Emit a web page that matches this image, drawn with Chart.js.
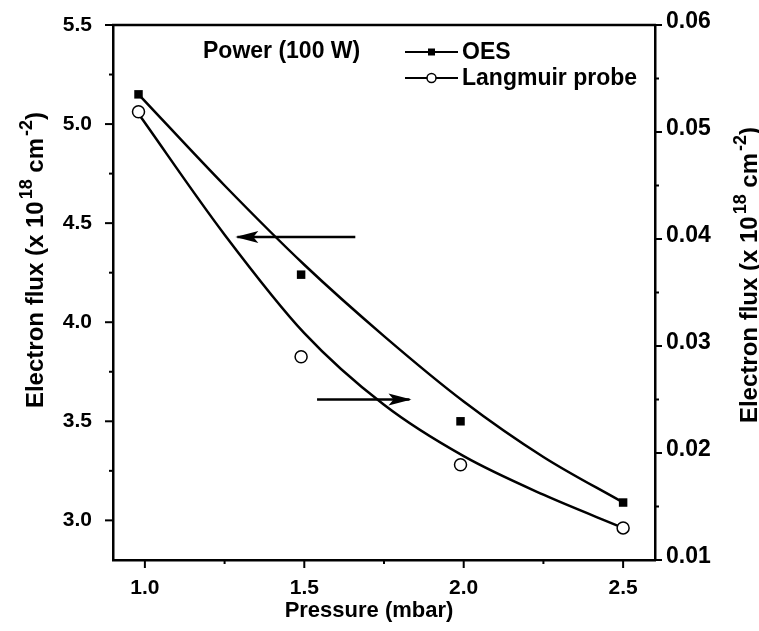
<!DOCTYPE html>
<html>
<head>
<meta charset="utf-8">
<script src="https://cdn.jsdelivr.net/npm/chart.js@4/dist/chart.umd.min.js"></script>
<style>
html,body{margin:0;padding:0;background:#fff;}
#wrap{width:759px;height:631px;}
</style>
</head>
<body>
<div id="wrap"><canvas id="c" width="759" height="631"></canvas></div>
<script>
// ---- data ----
const pressure = [0.98, 1.49, 1.99, 2.5];
const oesFlux = [5.15, 4.24, 3.50, 3.09];              // left axis (x10^18 cm^-2)
const langmuirFlux = [0.0519, 0.0290, 0.0189, 0.0130]; // right axis (x10^18 cm^-2)

// fitted curves, points
const oesFitX = [0.98, 1.25, 1.50, 1.75, 2.00, 2.25, 2.50];
const oesFitY = [5.15, 4.69, 4.29, 3.93, 3.60, 3.32, 3.09];
const lpFitX = [0.98, 1.25, 1.50, 1.75, 2.00, 2.25, 2.50];
const lpFitY = [0.0517, 0.0404, 0.0312, 0.0245, 0.0197, 0.0161, 0.0130];

const xTicks = [1.0, 1.5, 2.0, 2.5];
const xMinor = [1.25, 1.75, 2.25];
const leftTicks = [3.0, 3.5, 4.0, 4.5, 5.0, 5.5];
const leftMinor = [3.25, 3.75, 4.25, 4.75, 5.25];
const rightTicks = [0.01, 0.02, 0.03, 0.04, 0.05, 0.06];
const rightMinor = [0.015, 0.025, 0.035, 0.045, 0.055];

const legendLabels = ['OES', 'Langmuir probe'];
const powerLabel = 'Power (100 W)';
const xTitle = 'Pressure (mbar)';
// arrows: [x0, x1, y] in data units; left arrow on left axis, right arrow on right axis
const leftArrow = [1.66, 1.29, 4.43];
const rightArrow = [1.54, 1.83, 0.0250];

const FONT = '"Liberation Sans", Arial, Helvetica, sans-serif';

function zip(xs, ys){ return xs.map((x,i)=>({x:x, y:ys[i]})); }
function noPad(s){ s.paddingTop = 0; s.paddingBottom = 0; s.paddingLeft = 0; s.paddingRight = 0; }

const annot = {
  id: 'annot',
  afterDraw(chart){
    const ctx = chart.ctx;
    const a = chart.chartArea;
    const xs = chart.scales.x, yl = chart.scales.yL, yr = chart.scales.yR;
    ctx.save();
    ctx.strokeStyle = '#000';
    ctx.fillStyle = '#000';
    // frame top
    ctx.lineWidth = 2.5;
    ctx.beginPath();
    ctx.moveTo(a.left - 1, a.top); ctx.lineTo(a.right + 1, a.top);
    ctx.stroke();
    // ticks
    ctx.lineWidth = 2;
    function tk(x1,y1,x2,y2){ ctx.beginPath(); ctx.moveTo(x1,y1); ctx.lineTo(x2,y2); ctx.stroke(); }
    xTicks.forEach(v=>{ const p = xs.getPixelForValue(v); tk(p, a.bottom, p, a.bottom+8); });
    xMinor.forEach(v=>{ const p = xs.getPixelForValue(v); tk(p, a.bottom, p, a.bottom+4); });
    leftTicks.forEach(v=>{ const p = yl.getPixelForValue(v); tk(a.left-8, p, a.left, p); });
    leftMinor.forEach(v=>{ const p = yl.getPixelForValue(v); tk(a.left-4, p, a.left, p); });
    rightTicks.forEach(v=>{ const p = yr.getPixelForValue(v); tk(a.right, p, a.right+7, p); });
    rightMinor.forEach(v=>{ const p = yr.getPixelForValue(v); tk(a.right, p, a.right+4, p); });

    // arrows
    function arrow(x0, x1, y){
      ctx.lineWidth = 2.5;
      ctx.beginPath(); ctx.moveTo(x0, y); ctx.lineTo(x1, y); ctx.stroke();
      const dir = x1 > x0 ? 1 : -1;
      ctx.beginPath();
      ctx.moveTo(x1 + dir*2, y);
      ctx.lineTo(x1 - dir*21, y - 6);
      ctx.lineTo(x1 - dir*16, y);
      ctx.lineTo(x1 - dir*21, y + 6);
      ctx.closePath(); ctx.fill();
    }
    arrow(xs.getPixelForValue(leftArrow[0]), xs.getPixelForValue(leftArrow[1]), yl.getPixelForValue(leftArrow[2]));
    arrow(xs.getPixelForValue(rightArrow[0]), xs.getPixelForValue(rightArrow[1]), yr.getPixelForValue(rightArrow[2]));

    // power label
    ctx.font = 'bold 23px ' + FONT;
    ctx.textBaseline = 'middle';
    ctx.textAlign = 'left';
    ctx.fillText(powerLabel, a.left + 90, a.top + 27);

    // legend
    const lx0 = a.left + 292, lx1 = a.left + 345, tx = a.left + 349;
    [a.top + 27, a.top + 53].forEach((y, i)=>{
      ctx.lineWidth = 2;
      ctx.strokeStyle = '#000';
      tk(lx0, y, lx1, y);
      const cx = (lx0+lx1)/2;
      if (i === 0) {
        ctx.fillRect(cx-3.5, y-3.5, 7, 7);
      } else {
        ctx.beginPath(); ctx.arc(cx, y, 4.5, 0, Math.PI*2);
        ctx.fillStyle = '#fff'; ctx.fill(); ctx.fillStyle = '#000';
        ctx.lineWidth = 1.5; ctx.stroke();
      }
      ctx.font = 'bold 23px ' + FONT;
      ctx.fillText(legendLabels[i], tx, y + 1);
    });

    // x title
    ctx.font = 'bold 22px ' + FONT;
    ctx.textAlign = 'center';
    ctx.textBaseline = 'middle';
    ctx.fillText(xTitle, 369, 611);

    // y titles with superscripts
    function richV(cx, cy){
      const parts = [['Electron flux (x 10', 0], ['18', 1], [' cm', 0], ['-2', 1], [')', 0]];
      const big = 'bold 24px ' + FONT, small = 'bold 18px ' + FONT;
      let w = 0;
      parts.forEach(p=>{ ctx.font = p[1] ? small : big; w += ctx.measureText(p[0]).width + (p[1]?2:0); });
      ctx.save();
      ctx.translate(cx, cy);
      ctx.rotate(-Math.PI/2);
      ctx.textAlign = 'left';
      ctx.textBaseline = 'alphabetic';
      let x = -w/2;
      parts.forEach(p=>{
        ctx.font = p[1] ? small : big;
        ctx.fillText(p[0], x + (p[1]?2:0), p[1] ? -2 : 9);
        x += ctx.measureText(p[0]).width + (p[1]?2:0);
      });
      ctx.restore();
    }
    richV(34, 260);
    richV(748, 275);
    ctx.restore();
  }
};

const chart = new Chart(document.getElementById('c'), {
  type: 'scatter',
  data: {
    datasets: [
      { label: legendLabels[0], data: zip(pressure, oesFlux), yAxisID: 'yL', showLine: false,
        pointStyle: 'rect', pointRadius: 6, backgroundColor: '#000', borderColor: '#000', borderWidth: 0 },
      { label: legendLabels[1], data: zip(pressure, langmuirFlux), yAxisID: 'yR', showLine: false,
        pointStyle: 'circle', pointRadius: 6, backgroundColor: '#fff', borderColor: '#000', borderWidth: 1.5 },
      { label: 'OES fit', data: zip(oesFitX, oesFitY), yAxisID: 'yL', showLine: true, pointRadius: 0,
        borderColor: '#000', borderWidth: 2.5, cubicInterpolationMode: 'monotone', fill: false },
      { label: 'Langmuir fit', data: zip(lpFitX, lpFitY), yAxisID: 'yR', showLine: true, pointRadius: 0,
        borderColor: '#000', borderWidth: 2.5, cubicInterpolationMode: 'monotone', fill: false }
    ]
  },
  options: {
    responsive: false,
    animation: false,
    layout: { padding: { left: 0, right: 0, top: 25, bottom: 0 } },
    plugins: { legend: { display: false }, tooltip: { enabled: false }, title: { display: false } },
    scales: {
      x: {
        type: 'linear', position: 'bottom', min: 0.9, max: 2.6,
        grid: { display: false },
        border: { display: true, color: '#000', width: 2.5 },
        afterBuildTicks: s => { s.ticks = xTicks.map(v=>({value:v})); },
        afterFit: s => { s.height = 71; noPad(s); },
        ticks: { color: '#000', font: { family: FONT, size: 21, weight: 'bold' }, padding: 8,
                 maxRotation: 0, autoSkip: false, callback: v => v.toFixed(1) }
      },
      yL: {
        type: 'linear', position: 'left', min: 2.8, max: 5.5,
        grid: { display: false },
        border: { display: true, color: '#000', width: 2.5 },
        afterBuildTicks: s => { s.ticks = leftTicks.map(v=>({value:v})); },
        afterFit: s => { s.width = 113; noPad(s); },
        ticks: { color: '#000', font: { family: FONT, size: 21, weight: 'bold' }, padding: 13,
                 autoSkip: false, callback: v => v.toFixed(1) }
      },
      yR: {
        type: 'linear', position: 'right', min: 0.01, max: 0.06,
        grid: { display: false },
        border: { display: true, color: '#000', width: 2.5 },
        afterBuildTicks: s => { s.ticks = rightTicks.map(v=>({value:v})); },
        afterFit: s => { s.width = 104; noPad(s); },
        ticks: { color: '#000', font: { family: FONT, size: 23, weight: 'bold' }, padding: 3,
                 labelOffset: -3, autoSkip: false, callback: v => v.toFixed(2) }
      }
    }
  },
  plugins: [annot]
});
</script>
</body>
</html>
